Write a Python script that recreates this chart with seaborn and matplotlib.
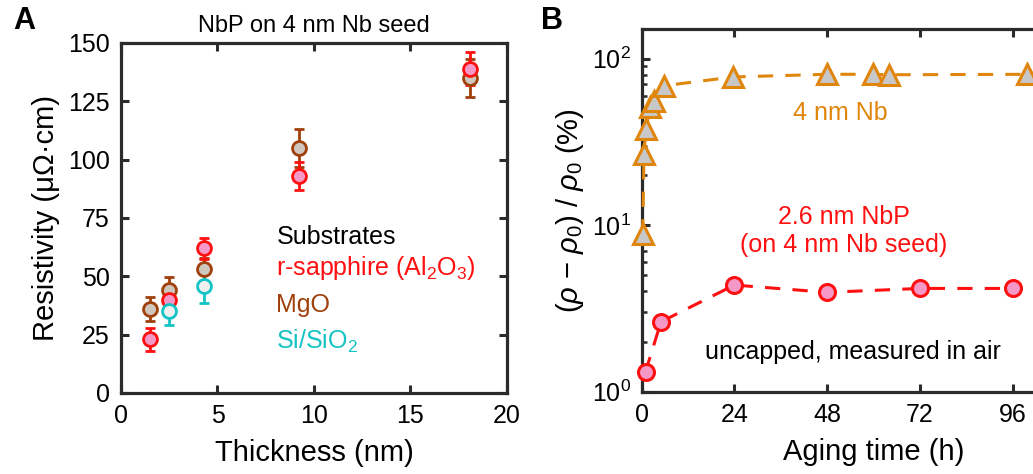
import numpy as np
import pandas as pd
import matplotlib
matplotlib.use("Agg")
import matplotlib.pyplot as plt
import seaborn as sns
from matplotlib.ticker import LogLocator, NullFormatter, FixedLocator

# ---------------- data ----------------
# Panel A: resistivity vs thickness
sapphire_x = [1.5, 2.5, 4.3, 9.2, 18.1]
sapphire_y = [23, 40, 62, 93, 139]
sapphire_err = [5, 5, 4.5, 6, 7]

mgo_x = [1.5, 2.5, 4.3, 9.2, 18.1]
mgo_y = [36, 44, 53, 105, 135]
mgo_err = [5, 5.5, 5, 8, 8]

sio2_x = [2.5, 4.3]
sio2_y = [35, 46]
sio2_err = [6, 7.5]

# Panel B: aging
nb_t = [0.25, 0.6, 1.1, 2.2, 3.2, 5.9, 23.7, 47.9, 60, 63.9, 99.7]
nb_y = [8.8, 26.7, 38, 51, 55.5, 68.8, 77.6, 80.5, 80.5, 80, 80.5]

nbp_t = [1, 5, 24, 48, 72, 96]
nbp_y = [1.32, 2.63, 4.37, 3.95, 4.17, 4.17]

xticks_a = [0, 5, 10, 15, 20]
yticks_a = [0, 25, 50, 75, 100, 125, 150]
xticks_b = [0, 24, 48, 72, 96]

# ---------------- style ----------------
sns.set_theme(style="ticks")
plt.rcParams['font.family'] = ['Liberation Sans', 'DejaVu Sans']
plt.rcParams['mathtext.fontset'] = 'custom'
plt.rcParams['mathtext.rm'] = 'Liberation Sans'
plt.rcParams['mathtext.it'] = 'Liberation Sans:italic'
plt.rcParams['mathtext.bf'] = 'Liberation Sans:bold'
plt.rcParams['text.color'] = 'black'
plt.rcParams['axes.labelcolor'] = 'black'
plt.rcParams['xtick.labelcolor'] = 'black'
plt.rcParams['ytick.labelcolor'] = 'black'

SPINE = '#2b2b2b'
RED = '#ff1010'
PINK = '#f598c8'
BROWN = '#a0400c'
BEIGE = '#cfc6bd'
CYAN = '#14c4c4'
LIGHT = '#f0f0f0'
ORANGE = '#e0860c'
GRAY = '#c8c8c8'

fig = plt.figure(figsize=(10.33, 4.74), dpi=100)

# ---------------- Panel A ----------------
axA = fig.add_axes([0.1171, 0.1709, 0.3737, 0.7384])

def draw_series(ax, x, y, err, edge, fill):
    ax.errorbar(x, y, yerr=err, fmt='none', ecolor=edge, elinewidth=2,
                capsize=3.5, capthick=2, zorder=2)
    sns.scatterplot(x=x, y=y, ax=ax, s=100, color=fill, edgecolor=edge,
                    linewidth=2, zorder=3, legend=False)

draw_series(axA, mgo_x, mgo_y, mgo_err, BROWN, BEIGE)
draw_series(axA, sapphire_x, sapphire_y, sapphire_err, RED, PINK)
draw_series(axA, sio2_x, sio2_y, sio2_err, CYAN, LIGHT)

axA.set_xlim(0, 20)
axA.set_ylim(0, 150)
axA.set_xticks(xticks_a)
axA.set_yticks(yticks_a)
axA.set_xlabel('Thickness (nm)', fontsize=21, labelpad=8)
axA.set_ylabel('Resistivity (μΩ·cm)', fontsize=21, labelpad=6)
axA.set_title('NbP on 4 nm Nb seed', fontsize=17, pad=8)

tx = 8.05
axA.text(tx, 66.9, 'Substrates', fontsize=18, color='black', va='center')
axA.text(tx, 53.6, r'r-sapphire (Al$_2$O$_3$)', fontsize=18, color=RED, va='center')
axA.text(tx, 37.7, 'MgO', fontsize=18, color=BROWN, va='center')
axA.text(tx, 21.9, r'Si/SiO$_2$', fontsize=18, color=CYAN, va='center')

# ---------------- Panel B ----------------
axB = fig.add_axes([0.6212, 0.1736, 0.4487, 0.7646])

sns.lineplot(x=nb_t, y=nb_y, ax=axB, color=ORANGE, linewidth=2.2,
             marker='^', markersize=14, markerfacecolor=GRAY,
             markeredgecolor=ORANGE, markeredgewidth=2.2, zorder=3)
axB.lines[-1].set_dashes([5, 4])
sns.lineplot(x=nbp_t, y=nbp_y, ax=axB, color=RED, linewidth=2.2,
             marker='o', markersize=11.5, markerfacecolor=PINK,
             markeredgecolor=RED, markeredgewidth=2.2, zorder=3)
axB.lines[-1].set_dashes([5, 4])

axB.set_yscale('log')
axB.set_xlim(0, 120)
axB.set_ylim(1, 150)
axB.set_xticks(xticks_b)
axB.yaxis.set_major_locator(FixedLocator([1, 10, 100]))
axB.set_yticklabels([r'10$^0$', r'10$^1$', r'10$^2$'])
axB.yaxis.set_minor_locator(LogLocator(base=10, subs=np.arange(2, 10)))
axB.yaxis.set_minor_formatter(NullFormatter())
axB.set_xlabel('Aging time (h)', fontsize=21, labelpad=8)
axB.set_ylabel(r'($\rho$ $-$ $\rho_0$) / $\rho_0$ (%)', fontsize=21, labelpad=4)

axB.text(51.3, 47, '4 nm Nb', fontsize=18, color=ORANGE, ha='center', va='center')
axB.text(52.4, 11.2, '2.6 nm NbP', fontsize=18, color=RED, ha='center', va='center')
axB.text(52.4, 7.6, '(on 4 nm Nb seed)', fontsize=18, color=RED, ha='center', va='center')
axB.text(54.7, 1.74, 'uncapped, measured in air', fontsize=18, color='black',
         ha='center', va='center')

for ax in (axA, axB):
    for sp in ax.spines.values():
        sp.set_linewidth(2.3)
        sp.set_color(SPINE)
        sp.set_visible(True)
    ax.tick_params(which='major', direction='in', length=6, width=2.2,
                   color=SPINE, labelsize=18, labelcolor='black',
                   top=True, right=True, pad=8)
    ax.tick_params(which='minor', direction='in', length=3.5, width=1.8,
                   color=SPINE, right=True)

for line in axB.lines:
    line.set_clip_on(False)

fig.text(0.013, 0.955, 'A', fontsize=22, fontweight='bold', va='center')
fig.text(0.524, 0.955, 'B', fontsize=22, fontweight='bold', va='center')

fig.savefig('out.png', dpi=100)
